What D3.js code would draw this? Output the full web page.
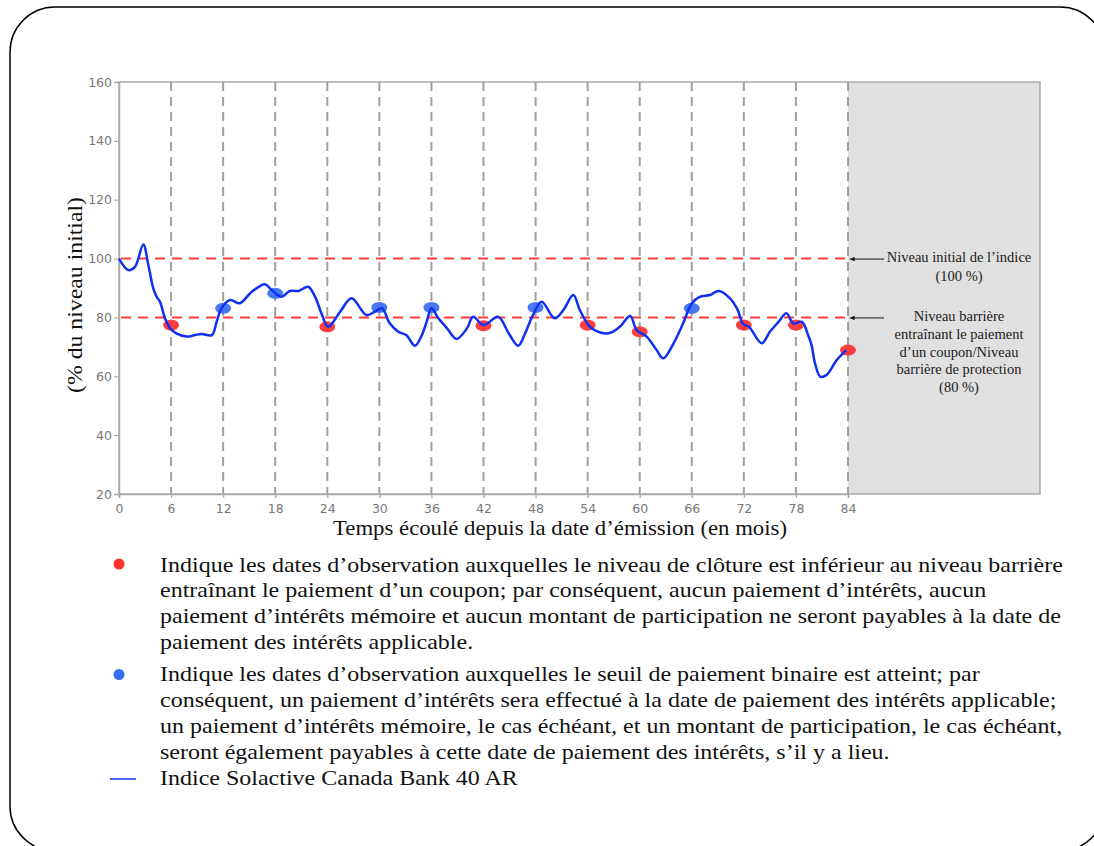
<!DOCTYPE html>
<html>
<head>
<meta charset="utf-8">
<script src="https://cdn.jsdelivr.net/npm/d3@7"></script>
<style>
  html, body { margin: 0; padding: 0; background: #fff; }
  svg { display: block; }
</style>
</head>
<body>
<svg id="chart" width="1094" height="846"></svg>
<script>
// ---------- DATA ----------
const xTicks = [0, 6, 12, 18, 24, 30, 36, 42, 48, 54, 60, 66, 72, 78, 84];
const yTicks = [20, 40, 60, 80, 100, 120, 140, 160];
const refLevels = [100, 80];

// Index path: [month, % of initial level]
const indexLevels = [
  [0,100],[1.07,96.1],[1.84,97.2],[2.8,104.8],[3.38,97.8],[3.95,89.9],[4.34,87],[4.72,85.3],
  [5.3,79.7],[5.88,76.3],[6.6,74.6],[7.8,73.5],[8.76,74],[9.5,74.4],[10.7,74],[11.25,78.5],
  [11.8,83.1],[12.8,85.9],[13.9,84.8],[15.3,88.7],[16.8,91.3],[17.6,89.3],[18.7,87],[19.7,89],
  [20.7,89],[21.8,90.4],[22.6,87],[23.4,80.8],[24.1,76.8],[25.5,82],[26.8,86.5],[28.5,80.8],
  [29.5,82],[30.3,83.1],[31.2,78],[32.2,75.1],[33.1,74],[34.1,70.4],[34.9,74],[35.45,78.5],
  [36.0,83.1],[36.8,79.7],[37.8,76.3],[38.9,72.7],[40.1,76.3],[40.8,80.2],[42.0,77.4],[43.7,80.2],
  [44.9,74.6],[46.0,70.4],[46.8,74.6],[47.7,80.8],[48.7,85.3],[50.2,79.7],[51.2,82.5],[52.35,87.6],
  [53.1,82.5],[54.1,77.4],[54.8,75.7],[56.4,74.6],[57.7,76.8],[58.9,80.5],[59.65,75.7],[60.8,73.5],
  [61.95,68.9],[62.7,66.1],[63.9,71.2],[65.0,78],[66.0,84.8],[66.9,87],[68.1,87.6],[69.1,89],
  [70.4,86.5],[71.3,82.5],[71.9,77.8],[72.6,76.8],[74.05,71.2],[75.0,75.1],[76.0,78.5],[76.9,81.4],
  [77.7,78],[78.7,78.5],[79.4,74],[79.8,70.6],[80.2,64.4],[80.8,59.9],[81.5,60.4],[82.7,65.5],[83.8,68.9]
];

const obsMonths = [6, 12, 18, 24, 30, 36, 42, 48, 54, 60, 66, 72, 78, 84];
const obsValues = [77.4, 83.1, 88.2, 76.8, 83.4, 83.4, 77.2, 83.4, 77.4, 75.1, 83.1, 77.4, 77.4, 68.9];
const obsStatus = ["below","above","above","below","above","above","below","above","below","below","above","below","below","below"];

const xTitle = "Temps écoulé depuis la date d’émission (en mois)";
const yTitle = "(% du niveau initial)";
const annot100 = ["Niveau initial de l’indice", "(100 %)"];
const annot80 = ["Niveau barrière", "entraînant le paiement", "d’un coupon/Niveau", "barrière de protection", "(80 %)"];

const legendRed = [
  "Indique les dates d’observation auxquelles le niveau de clôture est inférieur au niveau barrière",
  "entraînant le paiement d’un coupon; par conséquent, aucun paiement d’intérêts, aucun",
  "paiement d’intérêts mémoire et aucun montant de participation ne seront payables à la date de",
  "paiement des intérêts applicable."
];
const legendBlue = [
  "Indique les dates d’observation auxquelles le seuil de paiement binaire est atteint; par",
  "conséquent, un paiement d’intérêts sera effectué à la date de paiement des intérêts applicable;",
  "un paiement d’intérêts mémoire, le cas échéant, et un montant de participation, le cas échéant,",
  "seront également payables à cette date de paiement des intérêts, s’il y a lieu."
];
const legendLine = "Indice Solactive Canada Bank 40 AR";

// ---------- STYLE ----------
const C = {
  frame: "#aaaaaa", tick: "#777777", grid: "#a0a0a0", ref: "#ff3a3a",
  line: "#1030f0", red: "#ff3030", blue: "#3a6ef0", shade: "#e0e0e0"
};
const serif = "'Liberation Serif', 'Times New Roman', serif";
const sans = "'DejaVu Sans', sans-serif";

const svg = d3.select("#chart");

// Outer rounded border
svg.append("rect")
  .attr("x", 10).attr("y", 7).attr("width", 1095).attr("height", 844)
  .attr("rx", 45).attr("ry", 45)
  .attr("fill", "none").attr("stroke", "#000").attr("stroke-width", 1.5);

const x = d3.scaleLinear().domain([0, 84]).range([119, 848]);
const y = d3.scaleLinear().domain([20, 160]).range([494, 82]);
const rightEdge = 1040;

// Shaded region after maturity
svg.append("rect")
  .attr("x", x(84)).attr("y", y(160))
  .attr("width", rightEdge - x(84)).attr("height", y(20) - y(160))
  .attr("fill", C.shade);

// Frame
svg.append("rect")
  .attr("x", x(0)).attr("y", y(160))
  .attr("width", rightEdge - x(0)).attr("height", y(20) - y(160))
  .attr("fill", "none").attr("stroke", C.frame).attr("stroke-width", 1.5);

// Vertical dashed observation lines
svg.append("g").selectAll("line").data(obsMonths).join("line")
  .attr("x1", d => x(d)).attr("x2", d => x(d))
  .attr("y1", y(160)).attr("y2", y(20))
  .attr("stroke", C.grid).attr("stroke-width", 2)
  .attr("stroke-dasharray", "9,6");

// Horizontal reference lines
svg.append("g").selectAll("line").data(refLevels).join("line")
  .attr("x1", x(0) + 2).attr("x2", x(84))
  .attr("y1", d => y(d)).attr("y2", d => y(d))
  .attr("stroke", C.ref).attr("stroke-width", 2)
  .attr("stroke-dasharray", "10,7");

// Axes
const yAxis = svg.append("g").attr("transform", `translate(${x(0)},0)`)
  .call(d3.axisLeft(y).tickValues(yTicks).tickSize(5).tickPadding(2));
const xAxis = svg.append("g").attr("transform", `translate(0,${y(20)})`)
  .call(d3.axisBottom(x).tickValues(xTicks).tickSize(4).tickPadding(6));
[yAxis, xAxis].forEach(g => {
  g.select(".domain").attr("stroke", C.frame).attr("stroke-width", 1.5);
  g.selectAll(".tick line").attr("stroke", C.frame).attr("stroke-width", 1.2);
  g.selectAll(".tick text").attr("fill", C.tick)
    .style("font-family", sans).style("font-size", "12.5px");
});

// Observation markers
svg.append("g").selectAll("ellipse").data(obsMonths).join("ellipse")
  .attr("cx", d => x(d)).attr("cy", (d, i) => y(obsValues[i]))
  .attr("rx", 8).attr("ry", 5.5)
  .attr("fill", (d, i) => obsStatus[i] === "below" ? C.red : C.blue)
  .attr("opacity", 0.92);

// Index line (drawn over markers)
const line = d3.line().x(d => x(d[0])).y(d => y(d[1])).curve(d3.curveCatmullRom.alpha(0.5));
svg.append("path").datum(indexLevels)
  .attr("d", line).attr("fill", "none")
  .attr("stroke", C.line).attr("stroke-width", 2.5)
  .attr("stroke-linejoin", "round");

// Axis titles
svg.append("text")
  .attr("x", 560).attr("y", 535).attr("text-anchor", "middle")
  .attr("textLength", 454).attr("lengthAdjust", "spacingAndGlyphs")
  .style("font-family", serif).style("font-size", "22px").attr("fill", "#111")
  .text(xTitle);
svg.append("text")
  .attr("transform", "translate(82,295) rotate(-90)").attr("text-anchor", "middle")
  .attr("textLength", 196).attr("lengthAdjust", "spacingAndGlyphs")
  .style("font-family", serif).style("font-size", "22px").attr("fill", "#111")
  .text(yTitle);

// Annotations with arrows
const defs = svg.append("defs");
defs.append("marker").attr("id", "arr").attr("viewBox", "0 0 10 10")
  .attr("refX", 1).attr("refY", 5).attr("markerWidth", 6).attr("markerHeight", 6)
  .attr("orient", "auto-start-reverse")
  .append("path").attr("d", "M0,1.5 L9,5 L0,8.5 Z").attr("fill", "#111");

refLevels.forEach(v => {
  svg.append("line")
    .attr("x1", 884).attr("x2", x(84) + 6)
    .attr("y1", y(v) + 0.5).attr("y2", y(v) + 0.5)
    .attr("stroke", "#111").attr("stroke-width", 1)
    .attr("marker-end", "url(#arr)");
});

function block(lines, y0, step) {
  svg.append("g").selectAll("text").data(lines).join("text")
    .attr("x", 959).attr("y", (d, i) => y0 + i * step)
    .attr("text-anchor", "middle")
    .style("font-family", serif).style("font-size", "14.5px").attr("fill", "#1a1a1a")
    .text(d => d);
}
block(annot100, 262, 18.5);
block(annot80, 321, 17.8);

// Legend (horizontally scaled group to match reference text width)
const legFont = "21px";
const legendG = svg.append("g");
legendG.append("circle").attr("cx", 119).attr("cy", 564).attr("r", 5.5).attr("fill", C.red);
legendG.append("circle").attr("cx", 119).attr("cy", 674.5).attr("r", 5.5).attr("fill", C.blue);
legendG.append("line").attr("x1", 110).attr("x2", 136).attr("y1", 779).attr("y2", 779)
  .attr("stroke", C.line).attr("stroke-width", 1.5);

const textG = svg.append("g");
const inner = textG.append("g");
inner.selectAll("text.r").data(legendRed).join("text").attr("class", "r")
  .attr("x", 0).attr("y", (d, i) => 571.5 + i * 26)
  .style("font-family", serif).style("font-size", legFont).attr("fill", "#111")
  .text(d => d);
inner.selectAll("text.b").data(legendBlue).join("text").attr("class", "b")
  .attr("x", 0).attr("y", (d, i) => 681.5 + i * 26)
  .style("font-family", serif).style("font-size", legFont).attr("fill", "#111")
  .text(d => d);
const lastT = inner.append("text").attr("x", 0).attr("y", 785)
  .style("font-family", serif).style("font-size", legFont).attr("fill", "#111")
  .text(legendLine);
const firstW = inner.select("text.r").node().getComputedTextLength();
const k = 903 / firstW;
textG.attr("transform", `translate(160,0) scale(${k},1)`);
</script>
</body>
</html>
